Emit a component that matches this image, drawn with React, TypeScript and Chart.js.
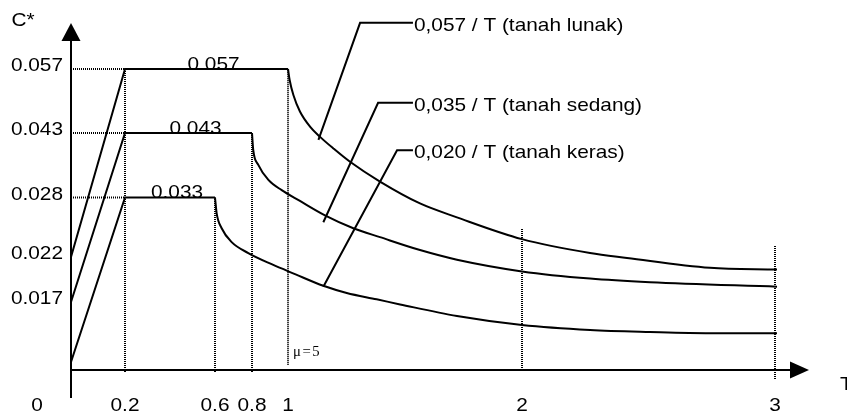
import React, { useEffect, useRef } from 'react';
import { Chart, LinearScale, registerables } from 'chart.js';

Chart.register(...registerables);

// ---------- data ----------
const xTicks = [0.2, 0.6, 0.8, 1, 2, 3];
const yTicks = [0.017, 0.022, 0.028, 0.043, 0.057];

// tanah lunak (soft soil)
const softRiseT = [0, 0.2, 1];
const softRiseC = [0.022, 0.057, 0.057];
const softDecayT = [1, 1.007, 1.023, 1.051, 1.094, 1.137, 1.194, 1.265, 1.393, 1.564, 1.722, 2.0, 2.269, 2.415, 2.743, 3.008];
const softDecayC = [0.057, 0.0546, 0.0513, 0.0477, 0.0444, 0.0421, 0.0394, 0.0363, 0.0317, 0.0274, 0.026, 0.0238, 0.0224, 0.0219, 0.0208, 0.0206];

// tanah sedang (medium soil)
const mediumRiseT = [0, 0.2, 0.8];
const mediumRiseC = [0.017, 0.043, 0.043];
const mediumDecayT = [0.8, 0.807, 0.835, 0.891, 0.965, 1.051, 1.158, 1.279, 1.393, 1.564, 1.722, 2.0, 2.269, 2.506, 3.008];
const mediumDecayC = [0.043, 0.039, 0.0356, 0.0321, 0.0297, 0.02765, 0.0262, 0.0249, 0.024, 0.0227, 0.0217, 0.0204, 0.0196, 0.0192, 0.0187];

// tanah keras (hard soil)
const hardRiseT = [0, 0.2, 0.6];
const hardRiseC = [0.002, 0.028, 0.028];
const hardDecayT = [0.6, 0.609, 0.636, 0.69, 0.78, 0.909, 1.03, 1.151, 1.251, 1.379, 1.479, 1.722, 2.0, 2.269, 2.506, 2.743, 3.008];
const hardDecayC = [0.028, 0.0264, 0.0249, 0.0235, 0.0224, 0.0212, 0.0201, 0.0188, 0.018, 0.0173, 0.0164, 0.0135, 0.01125, 0.01, 0.0095, 0.0092, 0.0092];

const plateauLabels = ['0.057', '0.043', '0.033'];

// dotted guide lines
const hGuideC = [0.057, 0.043, 0.028];
const hGuideT0 = 0;
const hGuideT1 = 0.2;
const vGuideT = [0.2, 0.6, 0.8, 1, 2, 3];
const vGuideFrom = [-0.0005, -0.0005, -0.0005, 0.0013, 0, -0.00225];
const vGuideTo = [0.057, 0.028, 0.043, 0.057, 0.0249, 0.0232];

// leader lines to the curve formulas
const leaderLabels = ['0,057 / T (tanah lunak)', '0,035 / T (tanah sedang)', '0,020 / T (tanah keras)'];
const leader1T = [1.534, 1.308, 1.13];
const leader1C = [0.0671, 0.0671, 0.0414];
const leader2T = [1.534, 1.385, 1.151];
const leader2C = [0.0496, 0.0496, 0.0255];
const leader3T = [1.534, 1.466, 1.151];
const leader3C = [0.039, 0.039, 0.0187];

const ductilityLabel = 'μ=5';

// ---------- schematic (piecewise) axes ----------
type Knot = [number, number];
const X_KNOTS: Knot[] = [
  [0, 0], [0.2, 0.07317], [0.6, 0.19512], [0.8, 0.24526], [1, 0.29404], [2, 0.61111], [3, 0.95393], [3.134, 1],
];
const Y_KNOTS: Knot[] = [
  [0, 0], [0.017, 0.19597], [0.022, 0.32565], [0.028, 0.49712], [0.043, 0.683], [0.057, 0.86744], [0.06706, 1],
];

function interp(knots: Knot[], v: number, a: 0 | 1, b: 0 | 1): number {
  const n = knots.length;
  let i = 0;
  if (v <= knots[0][a]) i = 0;
  else if (v >= knots[n - 1][a]) i = n - 2;
  else {
    while (i < n - 2 && v > knots[i + 1][a]) i++;
  }
  const k0 = knots[i];
  const k1 = knots[i + 1];
  const t = (v - k0[a]) / (k1[a] - k0[a]);
  return k0[b] + t * (k1[b] - k0[b]);
}

class PiecewiseScale extends LinearScale {
  static id = 'piecewise';
  static defaults = LinearScale.defaults;
  knots(): Knot[] {
    return (this as any).axis === 'x' ? X_KNOTS : Y_KNOTS;
  }
  getPixelForValue(value: number): number {
    if (value === null || value === undefined || isNaN(value)) return NaN;
    return (this as any).getPixelForDecimal(interp(this.knots(), value, 0, 1));
  }
  getValueForPixel(pixel: number): number {
    return interp(this.knots(), (this as any).getDecimalForPixel(pixel), 1, 0);
  }
}
Chart.register(PiecewiseScale as any);

const zip = (t: number[], c: number[]) => t.map((x, i) => ({ x, y: c[i] }));

const SANS = '"Liberation Sans", Arial, sans-serif';
const FONT = `18.6px ${SANS}`;
const STRETCH = 1.12;

function drawText(
  ctx: CanvasRenderingContext2D, s: string, x: number, y: number,
  align: CanvasTextAlign, baseline: CanvasTextBaseline, font = FONT, sx = STRETCH,
) {
  ctx.save();
  ctx.font = font;
  ctx.textAlign = align;
  ctx.textBaseline = baseline;
  ctx.translate(x, y);
  ctx.scale(sx, 1);
  ctx.fillText(s, 0, 0);
  ctx.restore();
}

const schematicPlugin = {
  id: 'schematic',
  afterDatasetsDraw(chart: any) {
    const { ctx, chartArea } = chart;
    const xs = chart.scales.x;
    const ys = chart.scales.y;
    const x0 = xs.getPixelForValue(0);
    const y0 = ys.getPixelForValue(0);
    ctx.save();
    ctx.strokeStyle = '#000';
    ctx.fillStyle = '#000';
    ctx.lineWidth = 2;

    // y axis + arrow
    ctx.beginPath();
    ctx.moveTo(x0, y0 + 28);
    ctx.lineTo(x0, chartArea.top + 16);
    ctx.stroke();
    ctx.beginPath();
    ctx.moveTo(x0, chartArea.top);
    ctx.lineTo(x0 - 9.5, chartArea.top + 18);
    ctx.lineTo(x0 + 9.5, chartArea.top + 18);
    ctx.closePath();
    ctx.fill();

    // x axis + arrow
    ctx.beginPath();
    ctx.moveTo(x0, y0);
    ctx.lineTo(chartArea.right - 16, y0);
    ctx.stroke();
    ctx.beginPath();
    ctx.moveTo(chartArea.right, y0);
    ctx.lineTo(chartArea.right - 19, y0 - 8.5);
    ctx.lineTo(chartArea.right - 19, y0 + 8.5);
    ctx.closePath();
    ctx.fill();

    // tick labels
    yTicks.forEach((v) => drawText(ctx, v.toFixed(3), x0 - 8, ys.getPixelForValue(v) - 3, 'right', 'middle'));
    xTicks.forEach((v) => drawText(ctx, String(v), xs.getPixelForValue(v), y0 + 36, 'center', 'middle'));
    drawText(ctx, '0', x0 - 34, y0 + 36, 'center', 'middle');

    // axis titles
    drawText(ctx, 'C*', x0 - 48, chartArea.top - 2, 'center', 'middle');
    drawText(ctx, 'T', chartArea.right + 31, y0 + 15, 'left', 'middle');

    // plateau labels
    const rises = [
      [softRiseT, softRiseC], [mediumRiseT, mediumRiseC], [hardRiseT, hardRiseC],
    ];
    rises.forEach(([t, c], i) => {
      const px0 = xs.getPixelForValue(t[1]);
      const px1 = xs.getPixelForValue(t[2]);
      const py = ys.getPixelForValue(c[1]);
      drawText(ctx, plateauLabels[i], (px0 + px1) / 2 + 7, py + 1, 'center', 'alphabetic');
    });

    // leader labels
    const leaders = [[leader1T, leader1C], [leader2T, leader2C], [leader3T, leader3C]];
    leaders.forEach(([t, c], i) => {
      drawText(ctx, leaderLabels[i], xs.getPixelForValue(t[0]) + 1, ys.getPixelForValue(c[0]) + 3, 'left', 'middle');
    });

    // ductility note
    ctx.save();
    (ctx as any).letterSpacing = '1.5px';
    drawText(ctx, ductilityLabel, xs.getPixelForValue(1) + 5, y0 - 14, 'left', 'alphabetic',
      '14px "Liberation Serif", "Times New Roman", serif', 1.05);
    ctx.restore();

    ctx.restore();
  },
};

export default function App() {
  const canvasRef = useRef<HTMLCanvasElement | null>(null);

  useEffect(() => {
    const canvas = canvasRef.current;
    if (!canvas) return;

    const solid = (data: { x: number; y: number }[], curved: boolean) => ({
      data,
      borderColor: '#000',
      borderWidth: 2,
      pointRadius: 0,
      fill: false,
      clip: false as any,
      tension: 0,
      cubicInterpolationMode: curved ? ('monotone' as const) : ('default' as const),
    });
    const dotted = (data: { x: number; y: number }[]) => ({
      data,
      borderColor: '#000',
      borderWidth: 2,
      borderDash: [1, 1],
      pointRadius: 0,
      fill: false,
      clip: false as any,
      tension: 0,
    });

    const datasets: any[] = [];
    hGuideC.forEach((c) => datasets.push(dotted([{ x: hGuideT0, y: c }, { x: hGuideT1, y: c }])));
    vGuideT.forEach((t, i) => datasets.push(dotted([{ x: t, y: vGuideFrom[i] }, { x: t, y: vGuideTo[i] }])));
    datasets.push(solid(zip(softRiseT, softRiseC), false));
    datasets.push(solid(zip(softDecayT, softDecayC), true));
    datasets.push(solid(zip(mediumRiseT, mediumRiseC), false));
    datasets.push(solid(zip(mediumDecayT, mediumDecayC), true));
    datasets.push(solid(zip(hardRiseT, hardRiseC), false));
    datasets.push(solid(zip(hardDecayT, hardDecayC), true));
    datasets.push(solid(zip(leader1T, leader1C), false));
    datasets.push(solid(zip(leader2T, leader2C), false));
    datasets.push(solid(zip(leader3T, leader3C), false));

    const chart = new Chart(canvas, {
      type: 'line',
      data: { datasets },
      options: {
        animation: false,
        responsive: false,
        devicePixelRatio: window.devicePixelRatio || 1,
        layout: { padding: { left: 71, right: 38, top: 23, bottom: 44 } },
        plugins: { legend: { display: false }, tooltip: { enabled: false } },
        events: [],
        scales: {
          x: { type: 'piecewise' as any, min: 0, max: 3.134, display: false },
          y: { type: 'piecewise' as any, min: 0, max: 0.06706, display: false },
        } as any,
      },
      plugins: [schematicPlugin],
    });
    return () => chart.destroy();
  }, []);

  return (
    <div style={{ position: 'fixed', left: 0, top: 0, width: 847, height: 414, background: '#fff' }}>
      <canvas ref={canvasRef} width={847} height={414} style={{ display: 'block', width: 847, height: 414 }} />
    </div>
  );
}
